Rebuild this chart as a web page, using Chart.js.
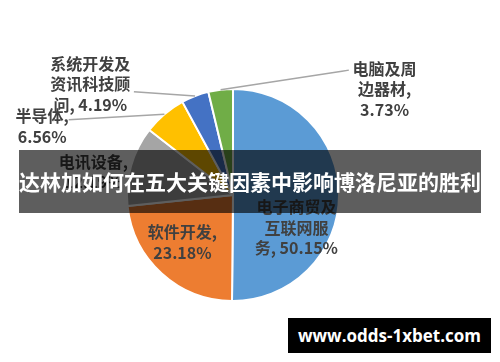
<!DOCTYPE html>
<html>
<head>
<meta charset="utf-8">
<script src="https://cdn.jsdelivr.net/npm/chart.js@4.4.1/dist/chart.umd.min.js"></script>
<style>
  html, body { margin: 0; padding: 0; background: #ffffff; }
  #wrap { position: relative; width: 500px; height: 362px; overflow: hidden; }
  #chart { position: absolute; left: 0; top: 0; }
  .banner {
    position: absolute; left: 19px; top: 150px; width: 462px; height: 63px;
    background: rgba(0, 0, 0, 0.63);
    color: #ffffff; font: bold 21px "Noto Sans CJK SC", sans-serif;
    line-height: 63px; text-align: center; white-space: nowrap;
  }
  .mark {
    position: absolute; left: 288px; top: 318px; width: 203px; height: 35px;
    background: #000000; color: #ffffff;
    font: bold 17px "Open Sans", sans-serif; line-height: 35px; text-align: center;
  }
</style>
</head>
<body>
<div id="wrap">
  <canvas id="chart" width="500" height="362"></canvas>
  <div class="banner">达林加如何在五大关键因素中影响博洛尼亚的胜利</div>
  <div class="mark">www.odds-1xbet.com</div>
</div>
<script>
// Industry shares (%), drawn clockwise from 12 o'clock
const categories = [
  ['电子商贸及', '互联网服', '务, '],
  ['软件开发,'],
  ['电讯设备,'],
  ['半导体,'],
  ['系统开发及', '资讯科技顾', '问, '],
  ['电脑及周', '边器材,']
];
const shares = [50.15, 23.18, 12.19, 6.56, 4.19, 3.73];
const sliceColors = ['#5B9BD5', '#ED7D31', '#A5A5A5', '#FFC000', '#4472C4', '#70AD47'];

// Label text: category lines, with the percentage appended to the last line
// or placed on a line of its own.
function labelLines(i) {
  const lines = categories[i].slice();
  const pct = shares[i].toFixed(2) + '%';
  const last = lines[lines.length - 1];
  if (last.endsWith(', ')) lines[lines.length - 1] = last + pct;
  else lines.push(pct);
  return lines;
}

// Label centre and leader path, in units of the pie radius relative to its centre
const placement = [
  { x: 0.598, y: 0.308 },
  { x: -0.477, y: 0.449 },
  { x: -1.318, y: -0.22 },
  { x: -1.80, y: -0.645, leader: [[-1.55, -0.71]] },
  { x: -1.346, y: -1.047, leader: [[-0.935, -0.973]] },
  { x: 1.43, y: -1.0, leader: [[1.028, -1.168], [1.093, -1.178]] }
];

const labelPlugin = {
  id: 'sliceLabels',
  afterDatasetsDraw(chart) {
    const ctx = chart.ctx;
    const arcs = chart.getDatasetMeta(0).data;
    ctx.save();
    arcs.forEach((arc, i) => {
      const p = placement[i];
      const r = arc.outerRadius;
      const cx = arc.x, cy = arc.y;
      if (p.leader) {
        const mid = (arc.startAngle + arc.endAngle) / 2;
        ctx.beginPath();
        ctx.strokeStyle = '#A6A6A6';
        ctx.lineWidth = 1.5;
        ctx.moveTo(cx + Math.cos(mid) * r, cy + Math.sin(mid) * r);
        p.leader.forEach(pt => ctx.lineTo(cx + pt[0] * r, cy + pt[1] * r));
        ctx.stroke();
      }
      const lines = labelLines(i);
      const lh = 20.5;
      const lx = cx + p.x * r;
      const ly = cy + p.y * r - (lines.length - 1) * lh / 2;
      ctx.fillStyle = '#404040';
      ctx.font = 'bold 16px "Noto Sans CJK SC", sans-serif';
      ctx.textAlign = 'center';
      ctx.textBaseline = 'middle';
      lines.forEach((t, k) => ctx.fillText(t, lx, ly + k * lh));
    });
    ctx.restore();
  }
};

new Chart(document.getElementById('chart'), {
  type: 'pie',
  data: {
    labels: categories.map(c => c.join('')),
    datasets: [{
      data: shares,
      backgroundColor: sliceColors,
      borderColor: '#ffffff',
      borderWidth: 2
    }]
  },
  options: {
    responsive: false,
    animation: false,
    layout: { padding: { left: 126, right: 160, top: 88, bottom: 60 } },
    plugins: { legend: { display: false }, tooltip: { enabled: false } }
  },
  plugins: [labelPlugin]
});
</script>
</body>
</html>
